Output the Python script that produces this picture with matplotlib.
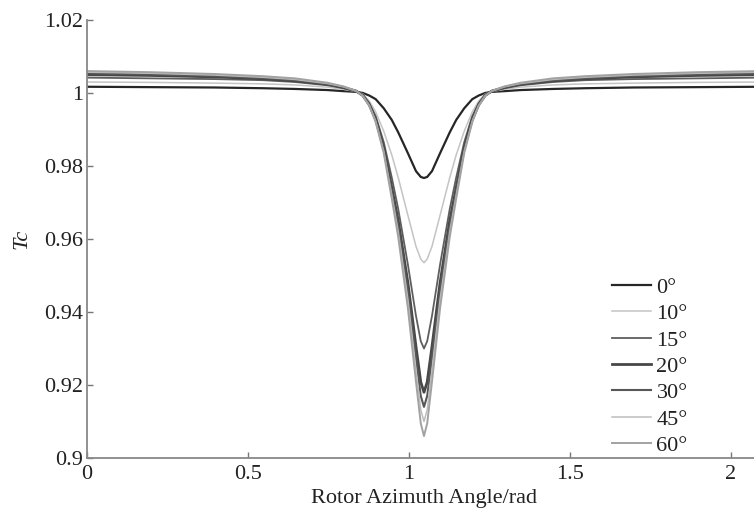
#Grafica de Tc contra el angulo azimutal del rotor.
import matplotlib
matplotlib.use('Agg')
import matplotlib.pyplot as plt
from matplotlib.ticker import FuncFormatter

#Angulo azimutal del rotor (rad).
angulo = [0, 0.197, 0.397, 0.547, 0.647, 0.747, 0.797, 0.837, 0.857, 0.877,
          0.897, 0.922, 0.947, 0.967, 0.997, 1.022, 1.037, 1.047,
          1.057, 1.072, 1.097, 1.127, 1.147, 1.172, 1.197, 1.217, 1.237,
          1.257, 1.297, 1.347, 1.447, 1.547, 1.697, 1.897, 2.094]

#Tc para cada angulo.
tc_0 = [1.0017, 1.0016, 1.0015, 1.0013, 1.0011, 1.0008, 1.0005, 1.0003, 1.0000, 0.9993,
        0.9983, 0.9958, 0.9926, 0.9892, 0.9835, 0.9786, 0.9770, 0.9767,
        0.9770, 0.9786, 0.9835, 0.9892, 0.9926, 0.9958, 0.9983, 0.9993, 1.0000,
        1.0003, 1.0005, 1.0008, 1.0011, 1.0013, 1.0015, 1.0016, 1.0017]
tc_10 = [1.0030, 1.0029, 1.0027, 1.0025, 1.0022, 1.0016, 1.0010, 1.0004, 0.9997, 0.9978,
         0.9948, 0.9895, 0.9830, 0.9768, 0.9665, 0.9580, 0.9545, 0.9535,
         0.9545, 0.9580, 0.9665, 0.9768, 0.9830, 0.9895, 0.9948, 0.9978, 0.9997,
         1.0004, 1.0010, 1.0016, 1.0022, 1.0025, 1.0027, 1.0029, 1.0030]
tc_15 = [1.0042, 1.0040, 1.0038, 1.0035, 1.0030, 1.0021, 1.0013, 1.0004, 0.9995, 0.9972,
         0.9936, 0.9865, 0.9768, 0.9682, 0.9530, 0.9390, 0.9320, 0.9300,
         0.9320, 0.9390, 0.9530, 0.9682, 0.9768, 0.9865, 0.9936, 0.9972, 0.9995,
         1.0004, 1.0013, 1.0021, 1.0030, 1.0035, 1.0038, 1.0040, 1.0042]
tc_20 = [1.0050, 1.0048, 1.0044, 1.0039, 1.0033, 1.0024, 1.0015, 1.0005, 0.9993, 0.9968,
         0.9928, 0.9850, 0.9740, 0.9650, 0.9480, 0.9306, 0.9208, 0.9180,
         0.9208, 0.9306, 0.9480, 0.9650, 0.9740, 0.9850, 0.9928, 0.9968, 0.9993,
         1.0005, 1.0015, 1.0024, 1.0033, 1.0039, 1.0044, 1.0048, 1.0050]
tc_30 = [1.0054, 1.0051, 1.0047, 1.0041, 1.0035, 1.0025, 1.0016, 1.0005, 0.9993, 0.9967,
         0.9925, 0.9845, 0.9730, 0.9635, 0.9457, 0.9274, 0.9170, 0.9140,
         0.9170, 0.9274, 0.9457, 0.9635, 0.9730, 0.9845, 0.9925, 0.9967, 0.9993,
         1.0005, 1.0016, 1.0025, 1.0035, 1.0041, 1.0047, 1.0051, 1.0054]
tc_45 = [1.0057, 1.0054, 1.0049, 1.0043, 1.0037, 1.0026, 1.0017, 1.0005, 0.9992, 0.9966,
         0.9923, 0.9840, 0.9720, 0.9620, 0.9434, 0.9242, 0.9132, 0.9100,
         0.9132, 0.9242, 0.9434, 0.9620, 0.9720, 0.9840, 0.9923, 0.9966, 0.9992,
         1.0005, 1.0017, 1.0026, 1.0037, 1.0043, 1.0049, 1.0054, 1.0057]
tc_60 = [1.0060, 1.0057, 1.0052, 1.0046, 1.0040, 1.0028, 1.0018, 1.0005, 0.9992, 0.9965,
         0.9920, 0.9835, 0.9710, 0.9605, 0.9410, 0.9210, 0.9095, 0.9060,
         0.9095, 0.9210, 0.9410, 0.9605, 0.9710, 0.9835, 0.9920, 0.9965, 0.9992,
         1.0005, 1.0018, 1.0028, 1.0040, 1.0046, 1.0052, 1.0057, 1.0060]

etiquetas = ['0°', '10°', '15°', '20°', '30°', '45°', '60°']
series = [tc_0, tc_10, tc_15, tc_20, tc_30, tc_45, tc_60]

#Estilo de cada curva (tonos de gris).
colores = ['#262626', '#c4c4c4', '#5e5e5e', '#484848', '#575757', '#bdbdbd', '#a2a2a2']
grosores = [1.6, 1.1, 1.3, 2.0, 1.5, 1.1, 1.4]

plt.rcParams['font.family'] = ['Liberation Serif', 'DejaVu Serif']
plt.rcParams['font.size'] = 16

fig = plt.figure(figsize=(7.54, 5.12), dpi=100)
ax = fig.add_axes([0.1154, 0.1055, 0.894, 0.8555])

for tc, etq, col, lw in zip(series, etiquetas, colores, grosores):
	ax.plot(angulo, tc, color=col, lw=lw, label=etq)

#Limites y marcas de los ejes.
ax.set_xlim(0, 2.0944)
ax.set_ylim(0.9, 1.02)
ax.set_xticks([0, 0.5, 1, 1.5, 2])
ax.set_yticks([0.9, 0.92, 0.94, 0.96, 0.98, 1, 1.02])
ax.xaxis.set_major_formatter(FuncFormatter(lambda v, p: '%g' % v))
ax.yaxis.set_major_formatter(FuncFormatter(lambda v, p: '%g' % round(v, 2)))
ax.tick_params(direction='in', length=4, width=1, color='#777777', labelcolor='#222222')
ax.tick_params(axis='x', pad=5)
ax.tick_params(axis='y', pad=3)

#Solo ejes izquierdo e inferior.
ax.spines['top'].set_visible(False)
ax.spines['right'].set_visible(False)
for lado in ['left', 'bottom']:
	ax.spines[lado].set_color('#888888')
	ax.spines[lado].set_linewidth(1.3)

ax.set_xlabel('Rotor Azimuth Angle/rad', color='#222222', labelpad=4)
ax.set_ylabel('Tc', style='italic', color='#222222', labelpad=9)

ax.legend(loc='upper left', bbox_to_anchor=(0.797, 0.48), bbox_transform=fig.transFigure,
          frameon=False, handlelength=1.75, handletextpad=0.25, labelspacing=0.26,
          borderpad=0, labelcolor='#222222')

fig.savefig('out.png', dpi=100)
